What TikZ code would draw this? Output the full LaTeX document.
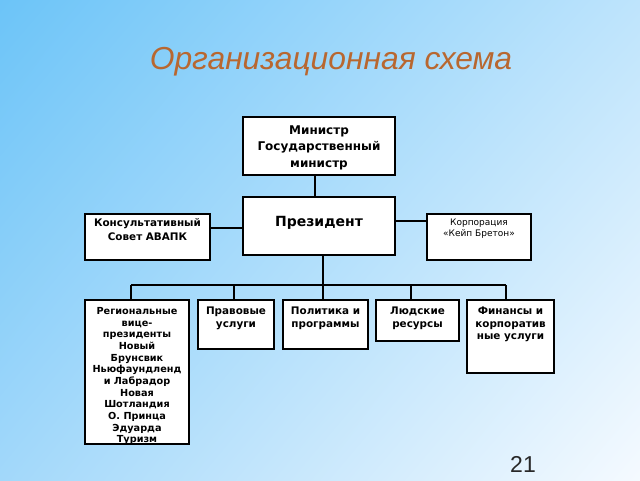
\documentclass[tikz,border=0pt]{standalone}
\usepackage{fontspec}
\usetikzlibrary{shadings}
\setmainfont{DejaVu Sans}
\newfontfamily\titlef{Liberation Sans}
\definecolor{bgUL}{RGB}{108,196,248}
\definecolor{bgUR}{RGB}{190,228,252}
\definecolor{bgLL}{RGB}{162,216,250}
\definecolor{bgLR}{RGB}{245,250,255}
\definecolor{titlecol}{RGB}{184,103,48}
\definecolor{numcol}{RGB}{40,40,40}
\newcommand\bxtext[4]{\parbox[c][#2][t]{#1}{\centering\vspace*{#3}#4\par}}
\tikzset{
  orgbox/.style={draw=black, line width=1.6pt, fill=white, inner sep=0pt, outer sep=0pt},
  conn/.style={draw=black, line width=1.3pt},
  connthick/.style={draw=black, line width=1.8pt}
}
\begin{document}
\begin{tikzpicture}[x=1pt,y=-1pt]
\shade[upper left=bgUL, upper right=bgUR, lower left=bgLL, lower right=bgLR] (0,0) rectangle (640,480);
\useasboundingbox (0,0) rectangle (640,480);

\node[text=titlecol, inner sep=0pt] (title) at (331,62) {\titlef\itshape\fontsize{31.8}{36}\selectfont Организационная схема};
\node[text=numcol, inner sep=0pt] (num) at (523,464) {\titlef\fontsize{23}{26}\selectfont 21};

\node[orgbox] (min) at (319,146) {\bxtext{152pt}{58pt}{8.5pt}{\bfseries\fontsize{12}{16.5}\selectfont Министр\\Государственный\\министр}};
\node[orgbox] (pres) at (319,226) {\bxtext{152pt}{58pt}{19pt}{\bfseries\fontsize{14}{17}\selectfont Президент}};
\node[orgbox] (kons) at (147.5,237) {\bxtext{125pt}{46pt}{5pt}{\bfseries\fontsize{10.4}{13.5}\selectfont Консультативный\\Совет АВАПК}};
\node[orgbox] (korp) at (479,237) {\bxtext{104pt}{46pt}{5pt}{\fontsize{9}{10.5}\selectfont Корпорация\\«Кейп Бретон»}};

\node[orgbox] (reg) at (137,372) {\bxtext{104pt}{144pt}{7.5pt}{\bfseries\fontsize{9.7}{11.65}\selectfont Региональные\\вице-\\президенты\\Новый\\Брунсвик\\Ньюфаундленд\\и Лабрадор\\Новая\\Шотландия\\О. Принца\\Эдуарда\\Туризм}};
\node[orgbox] (prav) at (236,324.5) {\bxtext{76pt}{49pt}{7pt}{\bfseries\fontsize{10.4}{12.5}\selectfont Правовые\\услуги}};
\node[orgbox] (pol) at (325.5,324.5) {\bxtext{85pt}{49pt}{7pt}{\bfseries\fontsize{10.4}{12.5}\selectfont Политика и\\программы}};
\node[orgbox] (lyud) at (417.5,320.5) {\bxtext{83pt}{41pt}{7pt}{\bfseries\fontsize{10.4}{12.5}\selectfont Людские\\ресурсы}};
\node[orgbox] (fin) at (510.5,336.5) {\bxtext{87pt}{73pt}{7pt}{\bfseries\fontsize{10.4}{12.5}\selectfont Финансы и\\корпоратив\\ные услуги}};

% connectors
\draw[connthick] ([xshift=-4pt]min.south) -- ([xshift=-4pt]pres.north);
\draw[conn] ([yshift=-2pt]pres.west) -- ([yshift=-2pt]pres.west -| kons.east);
\draw[conn] ([yshift=5pt]pres.east) -- ([yshift=5pt]pres.east -| korp.west);
\coordinate (busL) at (131,285);
\coordinate (busR) at (506,285);
\draw[connthick] ([xshift=4pt]pres.south) -- ([xshift=4pt]pres.south |- busL);
\draw[conn] (busL) -- (busR);
\draw[conn] (busL) -- (busL |- reg.north);
\draw[conn] ([xshift=-2pt]prav.north) -- ([xshift=-2pt]prav.north |- busL);
\draw[conn] ([xshift=-2.5pt]pol.north) -- ([xshift=-2.5pt]pol.north |- busL);
\draw[conn] ([xshift=-6.5pt]lyud.north) -- ([xshift=-6.5pt]lyud.north |- busL);
\draw[conn] (busR) -- (busR |- fin.north);
\end{tikzpicture}
\end{document}
